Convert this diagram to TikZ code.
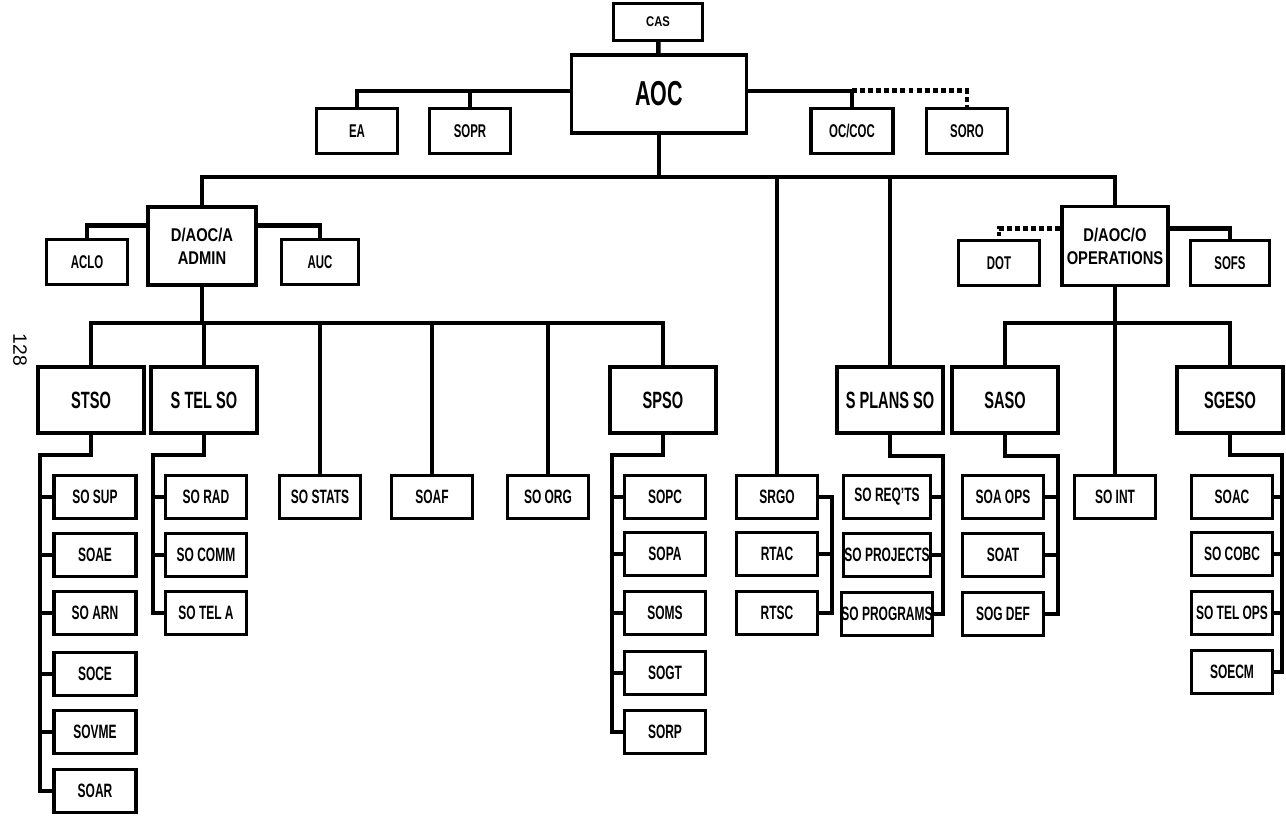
\documentclass[tikz,border=0pt]{standalone}
\usepackage{fontspec}
\setmainfont{Liberation Sans}[FakeStretch=0.62]
\newfontfamily\widesans{Liberation Sans}[FakeStretch=0.8]
\newfontfamily\plainsans{Liberation Sans}

\begin{document}
\begin{tikzpicture}[x=0.02cm, y=-0.02cm, line width=2.6pt,
    box/.style={draw, rectangle, line width=1.9pt, inner sep=0pt, align=center, font=\bfseries\fontsize{11}{13}\selectfont},
    unit/.style={box, minimum width=1.62cm, minimum height=0.86cm},
    branch/.style={box, minimum width=2.12cm, minimum height=1.32cm, font=\bfseries\fontsize{13.4}{16}\selectfont},
    staff/.style={box, minimum width=1.62cm, minimum height=0.9cm, font=\bfseries\fontsize{10.5}{12}\selectfont},
    deputy/.style={box, minimum width=2.16cm, minimum height=1.56cm, font=\widesans\bfseries\fontsize{10.5}{13}\selectfont},
    dotline/.style={line width=2.8pt, dash pattern=on 2.8pt off 1.8pt}]

    \useasboundingbox (0,0) rectangle (1286,817);

    \node[font=\plainsans\fontsize{11}{13}\selectfont, rotate=-90] (pageno) at (20,350) {128};

    \node[box, minimum width=1.78cm, minimum height=0.74cm, font=\widesans\bfseries\fontsize{8}{9}\selectfont] (cas) at (658,22) {CAS};
    \node[box, minimum width=3.5cm, minimum height=1.56cm, font=\bfseries\fontsize{19.7}{22}\selectfont] (aoc) at (659,94) {AOC};
    \node[staff] (ea) at (357,131) {EA};
    \node[staff] (sopr) at (470,131) {SOPR};
    \node[staff, minimum width=1.64cm] (occoc) at (852,131) {OC/COC};
    \node[staff] (soro) at (967,131) {SORO};

    \draw (cas) -- (aoc);
    \draw (aoc.178) -| (ea.north);
    \draw (sopr.north) -- (sopr.north |- aoc.178);
    \draw (aoc.2) -| (occoc.north);
    \coordinate (ocj) at (occoc.north |- aoc.2);
    \draw[dotline] (ocj) -| (soro.north);

    \coordinate (hub) at (659,177);
    \node[deputy] (daoca) at (202,246) {D/AOC/A\\ADMIN};
    \node[deputy, minimum width=2.12cm, minimum height=1.58cm] (daoco) at (1115,246) {D/AOC/O\\OPERATIONS};
    \node[staff] (aclo) at (87,262) {ACLO};
    \node[staff, minimum width=1.54cm] (auc) at (320,262) {AUC};
    \node[staff] (dot) at (999,263) {DOT};
    \node[staff, minimum width=1.58cm] (sofs) at (1230,263) {SOFS};

    \draw (aoc) -- (hub);
    \draw (daoca.north) |- (hub) -| (daoco.north);
    \draw (daoca.160) -| (aclo.north);
    \draw (daoca.20) -| (auc.north);
    \draw[dotline] (daoco.162) -| (dot.north);
    \draw (daoco.18) -| (sofs.north);

    \coordinate (abus) at (202,323);
    \node[branch] (stso) at (91,400) {STSO};
    \node[branch] (stelso) at (204,400) {S TEL SO};
    \node[unit] (sostats) at (320,497) {SO STATS};
    \node[unit] (soaf) at (432,497) {SOAF};
    \node[unit] (soorg) at (548,497) {SO ORG};
    \node[branch] (spso) at (663,400) {SPSO};

    \draw (daoca) -- (abus);
    \draw (stso.north) |- (abus) -| (spso.north);
    \foreach \n in {stelso, sostats, soaf, soorg}
        \draw (\n.north) -- (\n.north |- abus);

    \coordinate (obus) at (1115,323);
    \node[unit] (srgo) at (777,497) {SRGO};
    \node[branch] (splans) at (890,400) {S PLANS SO};
    \node[branch] (saso) at (1005,400) {SASO};
    \node[unit] (soint) at (1115,497) {SO INT};
    \node[branch] (sgeso) at (1230,400) {SGESO};

    \draw (srgo.north) -- (srgo.north |- hub);
    \draw (splans.north) -- (splans.north |- hub);
    \draw (daoco) -- (soint);
    \draw (saso.north) |- (obus) -| (sgeso.north);

    % left hand offices
    \foreach \n/\t/\y in {sosup/SO SUP/497, soae/SOAE/555, soarn/SO ARN/613, soce/SOCE/674, sovme/SOVME/732, soar/SOAR/791}
        \node[unit, minimum width=1.64cm] (\n) at (95,\y) {\t};
    \coordinate (stsoj) at (40,455);
    \draw (stso.south) |- (stsoj) |- (soar.west);
    \foreach \n in {sosup, soae, soarn, soce, sovme}
        \draw (stsoj |- \n.west) -- (\n.west);

    \foreach \n/\t/\y in {sorad/SO RAD/497, socomm/SO COMM/555, sotela/SO TEL A/613}
        \node[unit] (\n) at (206,\y) {\t};
    \coordinate (stelj) at (153,455);
    \draw (stelso.south) |- (stelj) |- (sotela.west);
    \foreach \n in {sorad, socomm}
        \draw (stelj |- \n.west) -- (\n.west);

    \foreach \n/\t/\y in {sopc/SOPC/497, sopa/SOPA/554, soms/SOMS/613, sogt/SOGT/673, sorp/SORP/732}
        \node[unit] (\n) at (665,\y) {\t};
    \coordinate (spsoj) at (612,455);
    \draw (spso.south) |- (spsoj) |- (sorp.west);
    \foreach \n in {sopc, sopa, soms, sogt}
        \draw (spsoj |- \n.west) -- (\n.west);

    % right hand offices
    \node[unit] (rtac) at (777,554) {RTAC};
    \node[unit] (rtsc) at (777,613) {RTSC};
    \coordinate (srgoj) at (832,497);
    \draw (srgo.east) -- (srgoj) |- (rtsc.east);
    \draw (srgoj |- rtac.east) -- (rtac.east);

    \foreach \n/\t/\y in {soreqts/SO REQ'TS/497, soprojects/SO PROJECTS/555, soprograms/SO PROGRAMS/614}
        \node[unit, minimum width=1.74cm] (\n) at (887,\y) {\t};
    \coordinate (splansj) at (943,456);
    \draw (splans.south) |- (splansj) |- (soprograms.east);
    \foreach \n in {soreqts, soprojects}
        \draw (splansj |- \n.east) -- (\n.east);

    \foreach \n/\t/\y in {soaops/SOA OPS/497, soat/SOAT/555, sogdef/SOG DEF/614}
        \node[unit] (\n) at (1003,\y) {\t};
    \coordinate (sasoj) at (1058,456);
    \draw (saso.south) |- (sasoj) |- (sogdef.east);
    \foreach \n in {soaops, soat}
        \draw (sasoj |- \n.east) -- (\n.east);

    \foreach \n/\t/\y in {soac/SOAC/497, socobc/SO COBC/554, sotelops/SO TEL OPS/613, soecm/SOECM/672}
        \node[unit] (\n) at (1232,\y) {\t};
    \coordinate (sgesoj) at (1282,455);
    \draw (sgeso.south) |- (sgesoj) |- (soecm.east);
    \foreach \n in {soac, socobc, sotelops}
        \draw (sgesoj |- \n.east) -- (\n.east);
\end{tikzpicture}
\end{document}
